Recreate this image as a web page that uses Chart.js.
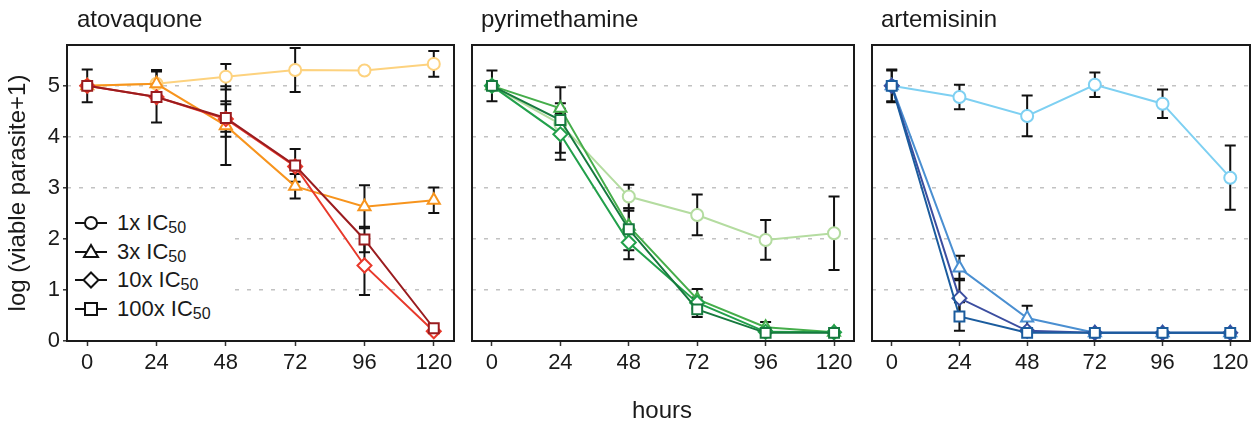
<!DOCTYPE html>
<html><head><meta charset="utf-8">
<script src="https://cdn.jsdelivr.net/npm/chart.js@4.4.0/dist/chart.umd.min.js"></script>
<style>
html,body{margin:0;padding:0;background:#fff;}
#wrap{position:relative;width:1259px;height:421px;overflow:hidden;font-family:"Liberation Sans",Arial,sans-serif;color:#1a1a1a;}
canvas{position:absolute;top:0;}
.ptitle{position:absolute;top:7px;font-size:24px;line-height:24px;white-space:nowrap;}
#xtitle{position:absolute;top:398px;left:0;width:1324px;text-align:center;font-size:24px;line-height:24px;}
#legend{position:absolute;left:68px;top:204px;width:159px;height:127px;background:#fff;}
.lg{position:absolute;left:0;width:159px;height:22px;}
.lg svg{position:absolute;left:6px;}
.lg span{position:absolute;left:49px;top:0;font-size:22px;line-height:22px;white-space:nowrap;}
.lg sub{font-size:16px;vertical-align:-3px;line-height:0;}
</style>
</head><body>
<div id="wrap">
  <canvas id="c1" width="463" height="421" style="left:0px"></canvas>
  <canvas id="c2" width="400" height="421" style="left:463px"></canvas>
  <canvas id="c3" width="396" height="421" style="left:863px"></canvas>
  <div class="ptitle" style="left:77px">atovaquone</div>
  <div class="ptitle" style="left:481px">pyrimethamine</div>
  <div class="ptitle" style="left:881px">artemisinin</div>
  <div id="xtitle">hours</div>
  <div id="legend"></div>
</div>
<script>
// ---------- data ----------
const hours = [0, 24, 48, 72, 96, 120];
const hourTicks = [0, 24, 48, 72, 96, 120];
const yTicks = [0, 1, 2, 3, 4, 5];
const doseLabels = ['1x IC', '3x IC', '10x IC', '100x IC'];
const doseSub = '50';
const drugNames = ['atovaquone', 'pyrimethamine', 'artemisinin'];

// atovaquone
const atoMean1   = [5.00, 5.04, 5.18, 5.31, 5.30, 5.43];
const atoErr1    = [0.32, 0, 0.25, 0.43, 0, 0.25];
const atoMean3   = [5.00, 5.04, 4.22, 3.03, 2.63, 2.76];
const atoErr3    = [0, 0.27, 0.77, 0.24, 0.42, 0.25];
const atoMean10  = [5.00, 4.78, 4.35, 3.42, 1.48, 0.19];
const atoErr10   = [0, 0, 0.35, 0, 0.58, 0];
const atoMean100 = [5.00, 4.78, 4.37, 3.44, 1.99, 0.25];
const atoErr100  = [0, 0.50, 0.27, 0.32, 0.25, 0];

// pyrimethamine
const pyrMean1   = [5.00, 4.25, 2.83, 2.47, 1.98, 2.11];
const pyrErr1    = [0, 0, 0.23, 0.40, 0.39, 0.72];
const pyrMean3   = [5.00, 4.56, 2.25, 0.82, 0.27, 0.17];
const pyrErr3    = [0, 0.10, 0.30, 0.20, 0.10, 0];
const pyrMean10  = [5.00, 4.05, 1.93, 0.75, 0.18, 0.17];
const pyrErr10   = [0, 0.50, 0.33, 0.10, 0, 0];
const pyrMean100 = [5.00, 4.33, 2.19, 0.62, 0.16, 0.16];
const pyrErr100  = [0.30, 0.64, 0.41, 0.15, 0, 0];

// artemisinin
const artMean1   = [5.00, 4.78, 4.41, 5.02, 4.65, 3.20];
const artErr1    = [0.32, 0.24, 0.40, 0.24, 0.28, 0.63];
const artMean3   = [5.00, 1.43, 0.45, 0.16, 0.16, 0.16];
const artErr3    = [0, 0.24, 0.24, 0, 0, 0];
const artMean10  = [5.00, 0.84, 0.20, 0.16, 0.16, 0.16];
const artErr10   = [0, 0.38, 0, 0, 0, 0];
const artMean100 = [5.00, 0.48, 0.16, 0.16, 0.16, 0.16];
const artErr100  = [0.30, 0.28, 0, 0, 0, 0];

// ---------- styles ----------
const FONT = '"Liberation Sans", Arial, sans-serif';
const TXT = '#1a1a1a';
const pointStyles = ['circle', 'triangle', 'rectRot', 'rect'];
const pointRadii = [6, 7, 7, 7];
const atoColors = ['#FDD27E', '#F7941D', '#E8392B', '#9A1C1F'];
const pyrColors = ['#B4DCA0', '#45AD4A', '#22A04B', '#167A3E'];
const artColors = ['#7ED0F2', '#4A8FD1', '#3C4EA0', '#1B5C9E'];

function buildDatasets(means, errs, colors) {
  return means.map((m, k) => ({
    label: doseLabels[k] + doseSub,
    data: m.map((v, j) => ({ x: hours[j], y: v })),
    errors: errs[k],
    borderColor: colors[k],
    backgroundColor: '#ffffff',
    pointBorderColor: colors[k],
    pointBackgroundColor: '#ffffff',
    pointStyle: pointStyles[k],
    pointRadius: pointRadii[k],
    pointBorderWidth: 2,
    borderWidth: 2,
    tension: 0,
    order: 3 - k
  }));
}

const errorBars = {
  id: 'errorBars',
  beforeDatasetsDraw(chart) {
    const { ctx } = chart;
    const x = chart.scales.x, y = chart.scales.y;
    ctx.save();
    ctx.strokeStyle = '#111';
    ctx.lineWidth = 2;
    chart.data.datasets.forEach(ds => {
      ds.data.forEach((p, j) => {
        const e = ds.errors[j];
        if (!e) return;
        const px = x.getPixelForValue(p.x);
        const y1 = y.getPixelForValue(p.y + e), y2 = y.getPixelForValue(p.y - e);
        ctx.beginPath();
        ctx.moveTo(px, y1); ctx.lineTo(px, y2);
        ctx.moveTo(px - 5.5, y1); ctx.lineTo(px + 5.5, y1);
        ctx.moveTo(px - 5.5, y2); ctx.lineTo(px + 5.5, y2);
        ctx.stroke();
      });
    });
    ctx.restore();
  }
};

const boxPlugin = {
  id: 'box',
  afterDraw(chart) {
    const { ctx, chartArea: a } = chart;
    ctx.save();
    ctx.strokeStyle = '#1a1a1a';
    ctx.lineWidth = 2;
    ctx.strokeRect(a.left, a.top, a.right - a.left, a.bottom - a.top);
    ctx.restore();
  }
};

function makeChart(id, datasets, first, pad) {
  return new Chart(document.getElementById(id), {
    type: 'line',
    data: { datasets },
    plugins: [errorBars, boxPlugin],
    options: {
      responsive: false,
      animation: false,
      devicePixelRatio: 1,
      layout: { padding: pad },
      plugins: { legend: { display: false }, tooltip: { enabled: false }, title: { display: false } },
      scales: {
        x: {
          type: 'linear', min: -7, max: 127,
          afterBuildTicks: s => { s.ticks = hourTicks.map(v => ({ value: v })); },
          afterFit: s => { s.height = 80; },
          grid: { drawOnChartArea: false, drawTicks: true, tickLength: 5, tickColor: '#333', tickWidth: 1.5 },
          border: { display: false },
          ticks: { font: { size: 22, family: FONT }, color: TXT, padding: 4, maxRotation: 0, autoSkip: false, callback: v => String(v) }
        },
        y: {
          min: 0, max: 5.8,
          afterBuildTicks: s => { s.ticks = yTicks.map(v => ({ value: v })); },
          afterFit: s => { s.width = first ? 67 : 0; },
          grid: {
            color: c => (c.tick && c.tick.value === 0) ? 'rgba(0,0,0,0)' : '#C2C2C2',
            lineWidth: 1.6,
            drawTicks: first, tickLength: 4, tickColor: '#333', tickWidth: 1.5, tickBorderDash: []
          },
          border: { display: false, dash: [4, 8] },
          ticks: { display: first, font: { size: 22, family: FONT }, color: TXT, padding: 3, callback: v => String(v) },
          title: { display: first, text: 'log (viable parasite+1)', font: { size: 24, family: FONT }, color: TXT, padding: { top: 4, bottom: 0 } }
        }
      }
    }
  });
}

makeChart('c1', buildDatasets([atoMean1, atoMean3, atoMean10, atoMean100], [atoErr1, atoErr3, atoErr10, atoErr100], atoColors), true, { top: 45, right: 8, left: 0, bottom: 0 });
makeChart('c2', buildDatasets([pyrMean1, pyrMean3, pyrMean10, pyrMean100], [pyrErr1, pyrErr3, pyrErr10, pyrErr100], pyrColors), false, { top: 45, right: 5, left: 8, bottom: 0 });
makeChart('c3', buildDatasets([artMean1, artMean3, artMean10, artMean100], [artErr1, artErr3, artErr10, artErr100], artColors), false, { top: 45, right: 2, left: 8, bottom: 0 });

// ---------- legend (HTML, real text) ----------
const shapes = [
  '<circle cx="17" cy="11" r="6" fill="#fff" stroke="#111" stroke-width="2"/>',
  '<polygon points="17,4 24,16 10,16" fill="#fff" stroke="#111" stroke-width="2"/>',
  '<polygon points="17,3.5 24.5,11 17,18.5 9.5,11" fill="#fff" stroke="#111" stroke-width="2"/>',
  '<rect x="11" y="5" width="12" height="12" fill="#fff" stroke="#111" stroke-width="2"/>'
];
const legendCenters = [222.7, 251.5, 280, 308.5];
const lg = document.getElementById('legend');
doseLabels.forEach((t, k) => {
  const cy = legendCenters[k] - 204;
  const row = document.createElement('div');
  row.className = 'lg';
  row.style.top = (cy - 11) + 'px';
  row.innerHTML = '<svg width="34" height="22" viewBox="0 0 34 22"><line x1="1" y1="11" x2="33" y2="11" stroke="#111" stroke-width="2"/>' + shapes[k] + '</svg>' +
    '<span style="top:0.3px">' + t + '<sub>' + doseSub + '</sub></span>';
  lg.appendChild(row);
});
</script>
</body></html>
